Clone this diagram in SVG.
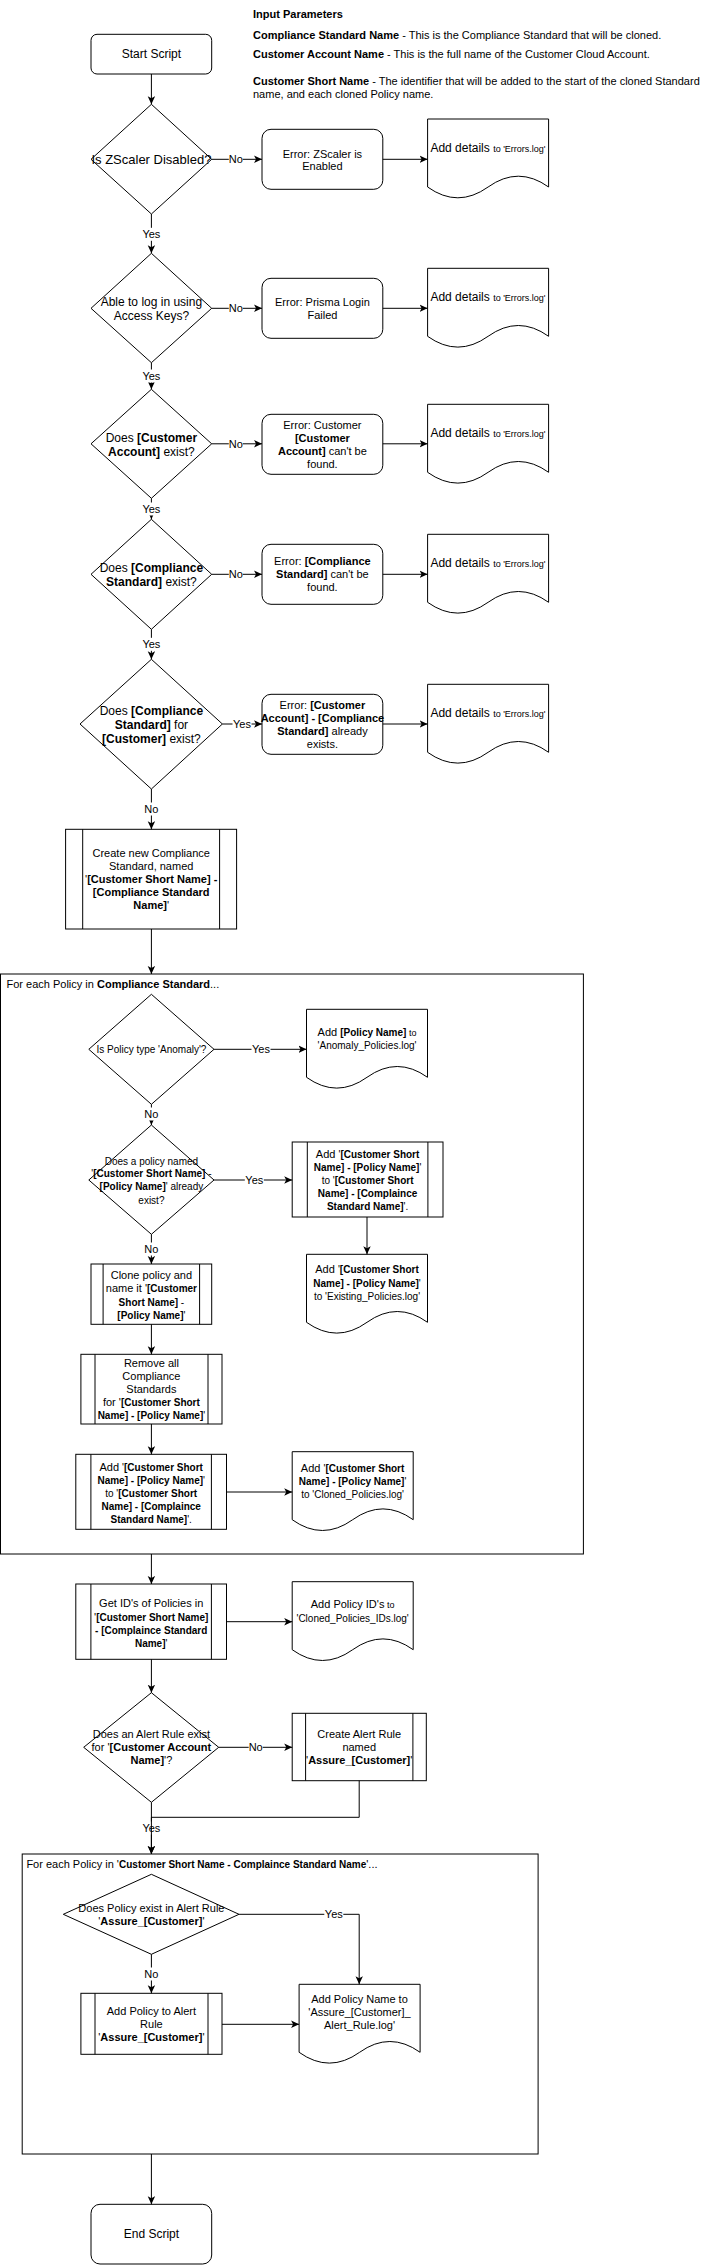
<svg xmlns="http://www.w3.org/2000/svg" width="721" height="2265" viewBox="0 0 721 2265">
<style>
text{font-family:'Liberation Sans',Arial,Helvetica,sans-serif;fill:#000}
.c{text-anchor:middle}
.s9{font-size:9px}.s10{font-size:10px}.s11{font-size:11px}.s12{font-size:12px}.s13{font-size:13px}
.b{font-weight:bold}
.sh{fill:#fff;stroke:#000;stroke-width:1}
.ln{fill:none;stroke:#000;stroke-width:1}
.e{fill:none;stroke:#000;stroke-width:1;marker-end:url(#arr)}
.lb{fill:#fff}
</style>
<defs>
<marker id="arr" markerUnits="userSpaceOnUse" markerWidth="9" markerHeight="9" refX="8" refY="4" orient="auto">
<path d="M0,0.3 L8,4 L0,7.7 L2,4 Z" fill="#000" stroke="none"/>
</marker>
<path id="doc" class="sh" d="M0,0 H121 V68 Q90.75,46.4 60.5,68 Q30.25,89.6 0,68 Z"/>
</defs>
<rect width="721" height="2265" fill="#fff"/>

<g id="input-params">
<text class="s11 b" x="253" y="18">Input Parameters</text>
<text class="s11" x="253" y="39"><tspan class="b">Compliance Standard Name</tspan> - This is the Compliance Standard that will be cloned.</text>
<text class="s11" x="253" y="58"><tspan class="b">Customer Account Name</tspan> - This is the full name of the Customer Cloud Account.</text>
<text class="s11" x="253" y="85"><tspan class="b">Customer Short Name</tspan> - The identifier that will be added to the start of the cloned Standard</text>
<text class="s11" x="253" y="98.3">name, and each cloned Policy name.</text>
</g>

<g id="container-policies">
<rect class="sh" x="0.5" y="974" width="582.9" height="580"/>
<text class="s11" x="6.5" y="988.3">For each Policy in <tspan class="b">Compliance Standard</tspan>...</text>
</g>
<g id="container-alert">
<rect class="sh" x="22.2" y="1854" width="515.9" height="300"/>
<text class="s11" x="26.4" y="1868.3">For each Policy in '<tspan class="b s10">Customer Short Name - Complaince Standard Name</tspan>'...</text>
</g>

<g id="start">
<rect class="sh" x="91" y="34.3" width="120.7" height="39.7" rx="6"/>
<text class="s12 c" x="151.4" y="58.3">Start Script</text>
</g>

<g id="d-zscaler">
<path class="sh" d="M151.4,104.3 L211.7,159.3 L151.4,214 L91,159.3 Z"/>
<text class="s13 c" x="151.4" y="164">Is ZScaler Disabled?</text>
</g>
<g id="e-zscaler">
<rect class="sh" x="262" y="129.3" width="120.8" height="60" rx="9"/>
<text class="s11 c" x="322.4" y="158">Error: ZScaler is</text>
<text class="s11 c" x="322.4" y="169.7">Enabled</text>
</g>
<g id="doc-1">
<use href="#doc" x="427.6" y="119"/>
<text class="s12 c" x="488" y="152">Add details <tspan class="s9">to 'Errors.log'</tspan></text>
</g>

<g id="d-login">
<path class="sh" d="M151.4,253.3 L211.7,308.3 L151.4,362.7 L91,308.3 Z"/>
<text class="s12 c" x="151.4" y="306">Able to log in using</text>
<text class="s12 c" x="151.4" y="320">Access Keys?</text>
</g>
<g id="e-login">
<rect class="sh" x="262" y="278.3" width="120.8" height="60" rx="9"/>
<text class="s11 c" x="322.4" y="306.3">Error: Prisma Login</text>
<text class="s11 c" x="322.4" y="319">Failed</text>
</g>
<g id="doc-2">
<use href="#doc" x="427.6" y="268.3"/>
<text class="s12 c" x="488" y="301">Add details <tspan class="s9">to 'Errors.log'</tspan></text>
</g>

<g id="d-account">
<path class="sh" d="M151.4,389.3 L211.7,443.8 L151.4,498.3 L91,443.8 Z"/>
<text class="s12 c" x="151.4" y="442">Does <tspan class="b">[Customer</tspan></text>
<text class="s12 c" x="151.4" y="455.6"><tspan class="b">Account]</tspan> exist?</text>
</g>
<g id="e-account">
<rect class="sh" x="262" y="414.3" width="120.8" height="60" rx="9"/>
<text class="s11 c" x="322.4" y="429">Error: Customer</text>
<text class="s11 c b" x="322.4" y="442.3">[Customer</text>
<text class="s11 c" x="322.4" y="455.3"><tspan class="b">Account]</tspan> can't be</text>
<text class="s11 c" x="322.4" y="468">found.</text>
</g>
<g id="doc-3">
<use href="#doc" x="427.6" y="404.3"/>
<text class="s12 c" x="488" y="436.6">Add details <tspan class="s9">to 'Errors.log'</tspan></text>
</g>

<g id="d-standard">
<path class="sh" d="M151.4,519.3 L211.7,574.3 L151.4,629.3 L91,574.3 Z"/>
<text class="s12 c" x="151.4" y="572">Does <tspan class="b">[Compliance</tspan></text>
<text class="s12 c" x="151.4" y="586"><tspan class="b">Standard]</tspan> exist?</text>
</g>
<g id="e-standard">
<rect class="sh" x="262" y="544.3" width="120.8" height="60" rx="9"/>
<text class="s11 c" x="322.4" y="565">Error: <tspan class="b">[Compliance</tspan></text>
<text class="s11 c" x="322.4" y="578.3"><tspan class="b">Standard]</tspan> can't be</text>
<text class="s11 c" x="322.4" y="591.3">found.</text>
</g>
<g id="doc-4">
<use href="#doc" x="427.6" y="534.3"/>
<text class="s12 c" x="488" y="567">Add details <tspan class="s9">to 'Errors.log'</tspan></text>
</g>

<g id="d-customer-standard">
<path class="sh" d="M151.4,659.3 L222.4,724 L151.4,789 L80,724 Z"/>
<text class="s12 c" x="151.4" y="715">Does <tspan class="b">[Compliance</tspan></text>
<text class="s12 c" x="151.4" y="728.6"><tspan class="b">Standard]</tspan> for</text>
<text class="s12 c" x="151.4" y="743"><tspan class="b">[Customer]</tspan> exist?</text>
</g>
<g id="e-customer-standard">
<rect class="sh" x="262" y="694.3" width="120.8" height="60" rx="9"/>
<text class="s11 c" x="322.4" y="709">Error: <tspan class="b">[Customer</tspan></text>
<text class="s11 c b" x="322.4" y="722.3">Account] - [Compliance</text>
<text class="s11 c" x="322.4" y="735.3"><tspan class="b">Standard]</tspan> already</text>
<text class="s11 c" x="322.4" y="748.3">exists.</text>
</g>
<g id="doc-5">
<use href="#doc" x="427.6" y="684.3"/>
<text class="s12 c" x="488" y="716.6">Add details <tspan class="s9">to 'Errors.log'</tspan></text>
</g>

<g id="p-create-standard">
<rect class="sh" x="65.6" y="829.3" width="171" height="99.7"/>
<path class="ln" d="M82.7,829.3 V929 M219.6,829.3 V929"/>
<text class="s11 c" x="151.2" y="857.3">Create new Compliance</text>
<text class="s11 c" x="151.2" y="870">Standard, named</text>
<text class="s11 c" x="151.2" y="883">'<tspan class="b">[Customer Short Name] -</tspan></text>
<text class="s11 c b" x="151.2" y="896.3">[Compliance Standard</text>
<text class="s11 c" x="151.2" y="909.3"><tspan class="b">Name]</tspan>'</text>
</g>

<g id="d-anomaly">
<path class="sh" d="M151.4,994.3 L214,1049.3 L151.4,1104.3 L88.8,1049.3 Z"/>
<text class="s10 c" x="151.4" y="1052.9">Is Policy type 'Anomaly'?</text>
</g>
<g id="doc-anomaly">
<use href="#doc" x="306.5" y="1009.3"/>
<text class="s11 c" x="367" y="1036">Add <tspan class="b s10">[Policy Name]</tspan><tspan class="s9"> to</tspan></text>
<text class="s10 c" x="367" y="1048.6">'Anomaly_Policies.log'</text>
</g>

<g id="d-policy-exists">
<path class="sh" d="M151.4,1125 L214,1180 L151.4,1234.3 L88.8,1180 Z"/>
<text class="s10 c" x="151.4" y="1164.6">Does a policy named</text>
<text class="s10 c" x="151.4" y="1177.3">'<tspan class="b">[Customer Short Name]</tspan> -</text>
<text class="s10 c" x="151.4" y="1190.3"><tspan class="b">[Policy Name]</tspan>' already</text>
<text class="s10 c" x="151.4" y="1203.6">exist?</text>
</g>
<g id="p-add-existing">
<rect class="sh" x="292.2" y="1142" width="150.8" height="75"/>
<path class="ln" d="M307.3,1142 V1217 M427.9,1142 V1217"/>
<text class="s11 c" x="367.6" y="1157.7">Add <tspan class="s10">'</tspan><tspan class="s10 b">[Customer Short</tspan></text>
<text class="s10 c" x="367.6" y="1170.7"><tspan class="b">Name] - [Policy Name]</tspan>'</text>
<text class="s10 c" x="367.6" y="1183.7">to '<tspan class="b">[Customer Short</tspan></text>
<text class="s10 c b" x="367.6" y="1196.7">Name] - [Complaince</text>
<text class="s10 c" x="367.6" y="1209.7"><tspan class="b">Standard Name]</tspan>'.</text>
</g>
<g id="doc-existing">
<use href="#doc" x="306.5" y="1254.3"/>
<text class="s11 c" x="367" y="1273.3">Add <tspan class="s10">'</tspan><tspan class="s10 b">[Customer Short</tspan></text>
<text class="s10 c" x="367" y="1286.7"><tspan class="b">Name] - [Policy Name]</tspan>'</text>
<text class="s10 c" x="367" y="1299.7">to 'Existing_Policies.log'</text>
</g>

<g id="p-clone">
<rect class="sh" x="91" y="1264" width="120.7" height="60.3"/>
<path class="ln" d="M103.1,1264 V1324.3 M199.6,1264 V1324.3"/>
<text class="s11 c" x="151.4" y="1279.3">Clone policy and</text>
<text class="s11 c" x="151.4" y="1292.3">name it '<tspan class="b s10">[Customer</tspan></text>
<text class="s10 c" x="151.4" y="1305.7"><tspan class="b">Short Name]</tspan> -</text>
<text class="s10 c" x="151.4" y="1318.7"><tspan class="b">[Policy Name]</tspan>'</text>
</g>
<g id="p-remove">
<rect class="sh" x="80.9" y="1354.3" width="141.1" height="69.7"/>
<path class="ln" d="M95,1354.3 V1424 M208,1354.3 V1424"/>
<text class="s11 c" x="151.4" y="1367.3">Remove all</text>
<text class="s11 c" x="151.4" y="1380.3">Compliance</text>
<text class="s11 c" x="151.4" y="1393">Standards</text>
<text class="s11 c" x="151.4" y="1406.3">for '<tspan class="b s10">[Customer Short</tspan></text>
<text class="s10 c" x="151.4" y="1419.3"><tspan class="b">Name] - [Policy Name]</tspan>'</text>
</g>
<g id="p-add-cloned">
<rect class="sh" x="75.8" y="1454.3" width="150.7" height="75"/>
<path class="ln" d="M90.9,1454.3 V1529.3 M211.4,1454.3 V1529.3"/>
<text class="s11 c" x="151.2" y="1470.7">Add <tspan class="s10">'</tspan><tspan class="s10 b">[Customer Short</tspan></text>
<text class="s10 c" x="151.2" y="1483.7"><tspan class="b">Name] - [Policy Name]</tspan>'</text>
<text class="s10 c" x="151.2" y="1496.7">to '<tspan class="b">[Customer Short</tspan></text>
<text class="s10 c b" x="151.2" y="1509.7">Name] - [Complaince</text>
<text class="s10 c" x="151.2" y="1522.7"><tspan class="b">Standard Name]</tspan>'.</text>
</g>
<g id="doc-cloned">
<use href="#doc" x="292.2" y="1451.7"/>
<text class="s11 c" x="352.6" y="1471.7">Add <tspan class="s10">'</tspan><tspan class="s10 b">[Customer Short</tspan></text>
<text class="s10 c" x="352.6" y="1484.7"><tspan class="b">Name] - [Policy Name]</tspan>'</text>
<text class="s10 c" x="352.6" y="1497.7">to 'Cloned_Policies.log'</text>
</g>

<g id="p-get-ids">
<rect class="sh" x="75.8" y="1584" width="150.7" height="75.3"/>
<path class="ln" d="M90.9,1584 V1659.3 M211.4,1584 V1659.3"/>
<text class="s11 c" x="151.2" y="1607">Get ID's of Policies in</text>
<text class="s11 c" x="151.2" y="1620.7">'<tspan class="b s10">[Customer Short Name]</tspan></text>
<text class="s10 c b" x="151.2" y="1634">- [Complaince Standard</text>
<text class="s10 c" x="151.2" y="1646.7"><tspan class="b">Name]</tspan>'</text>
</g>
<g id="doc-ids">
<use href="#doc" x="292.2" y="1581.7"/>
<text class="s11 c" x="352.6" y="1608">Add Policy ID's<tspan class="s9"> to</tspan></text>
<text class="s10 c" x="352.6" y="1621.7">'Cloned_Policies_IDs.log'</text>
</g>

<g id="d-alert-rule">
<path class="sh" d="M151.4,1692.7 L218.7,1747.3 L151.4,1802.3 L83.7,1747.3 Z"/>
<text class="s11 c" x="151.4" y="1738">Does an Alert Rule exist</text>
<text class="s11 c" x="151.4" y="1751.3">for '<tspan class="b">[Customer Account</tspan></text>
<text class="s11 c" x="151.4" y="1764.3"><tspan class="b">Name]</tspan>'?</text>
</g>
<g id="p-create-alert">
<rect class="sh" x="292.2" y="1713.3" width="134.1" height="67.4"/>
<path class="ln" d="M305.6,1713.3 V1780.7 M412.9,1713.3 V1780.7"/>
<text class="s11 c" x="359.2" y="1738">Create Alert Rule</text>
<text class="s11 c" x="359.2" y="1751.3">named</text>
<text class="s11 c" x="359.2" y="1764.3">'<tspan class="b">Assure_[Customer]</tspan>'</text>
</g>

<g id="d-policy-in-rule">
<path class="sh" d="M151.4,1874.3 L239,1914.3 L151.4,1954.3 L63.3,1914.3 Z"/>
<text class="s11 c" x="151.4" y="1912.3">Does Policy exist in Alert Rule</text>
<text class="s11 c" x="151.4" y="1925">'<tspan class="b">Assure_[Customer]</tspan>'</text>
</g>
<g id="p-add-to-rule">
<rect class="sh" x="80.9" y="1993.3" width="141.1" height="61"/>
<path class="ln" d="M95,1993.3 V2054.3 M208,1993.3 V2054.3"/>
<text class="s11 c" x="151.4" y="2015">Add Policy to Alert</text>
<text class="s11 c" x="151.4" y="2028">Rule</text>
<text class="s11 c" x="151.4" y="2041">'<tspan class="b">Assure_[Customer]</tspan>'</text>
</g>
<g id="doc-alert">
<use href="#doc" x="299.1" y="1984.3"/>
<text class="s11 c" x="359.5" y="2003">Add Policy Name to</text>
<text class="s11 c" x="359.5" y="2016.3">'Assure_[Customer]_</text>
<text class="s11 c" x="359.5" y="2029.3">Alert_Rule.log'</text>
</g>

<g id="end">
<rect class="sh" x="91" y="2204.3" width="120.7" height="59.7" rx="9"/>
<text class="s12 c" x="151.4" y="2238.3">End Script</text>
</g>

<g id="connectors">
<path class="e" d="M151.4,74 V104.3"/>
<path class="e" d="M211.7,159.3 H262"/>
<path class="e" d="M382.8,159.3 H427.6"/>
<path class="e" d="M151.4,214 V253.3"/>
<path class="e" d="M211.7,308.3 H262"/>
<path class="e" d="M382.8,308.3 H427.6"/>
<path class="e" d="M151.4,362.7 V389.3"/>
<path class="e" d="M211.7,443.8 H262"/>
<path class="e" d="M382.8,443.8 H427.6"/>
<path class="e" d="M151.4,498.3 V519.3"/>
<path class="e" d="M211.7,574.3 H262"/>
<path class="e" d="M382.8,574.3 H427.6"/>
<path class="e" d="M151.4,629.3 V659.3"/>
<path class="e" d="M222.4,724 H262"/>
<path class="e" d="M382.8,724 H427.6"/>
<path class="e" d="M151.4,789 V829.3"/>
<path class="e" d="M151.4,929 V974"/>
<path class="e" d="M214,1049.3 H306.5"/>
<path class="e" d="M151.4,1104.3 V1125"/>
<path class="e" d="M214,1180 H292.2"/>
<path class="e" d="M367,1217 V1254.3"/>
<path class="e" d="M151.4,1234.3 V1264"/>
<path class="e" d="M151.4,1324.3 V1354.3"/>
<path class="e" d="M151.4,1424 V1454.3"/>
<path class="e" d="M226.5,1492 H292.2"/>
<path class="e" d="M151.4,1554 V1584"/>
<path class="e" d="M226.5,1621.7 H292.2"/>
<path class="e" d="M151.4,1659.3 V1692.7"/>
<path class="e" d="M218.7,1747.3 H292.2"/>
<path class="e" d="M151.4,1802.3 V1854"/>
<path class="e" d="M239,1914.3 H359.2 V1984.3"/>
<path class="e" d="M151.4,1954.3 V1993.3"/>
<path class="e" d="M222,2024.3 H299.1"/>
<path class="e" d="M151.4,2154 V2204.3"/>

<g id="edge-labels">
<rect class="lb" x="228.8" y="152.8" width="14" height="13"/><text class="s11 c" x="235.8" y="163.3">No</text>
<rect class="lb" x="228.8" y="301.8" width="14" height="13"/><text class="s11 c" x="235.8" y="312.3">No</text>
<rect class="lb" x="228.8" y="437.3" width="14" height="13"/><text class="s11 c" x="235.8" y="447.8">No</text>
<rect class="lb" x="228.8" y="567.8" width="14" height="13"/><text class="s11 c" x="235.8" y="578.3">No</text>
<rect class="lb" x="232.5" y="717.5" width="19" height="13"/><text class="s11 c" x="242" y="728">Yes</text>
<rect class="lb" x="141.9" y="227.8" width="19" height="13"/><text class="s11 c" x="151.4" y="238.3">Yes</text>
<rect class="lb" x="141.9" y="369.5" width="19" height="13"/><text class="s11 c" x="151.4" y="380">Yes</text>
<rect class="lb" x="141.9" y="502.5" width="19" height="13"/><text class="s11 c" x="151.4" y="513">Yes</text>
<rect class="lb" x="141.9" y="637.8" width="19" height="13"/><text class="s11 c" x="151.4" y="648.3">Yes</text>
<rect class="lb" x="144.4" y="802.5" width="14" height="13"/><text class="s11 c" x="151.4" y="813">No</text>
<rect class="lb" x="251.5" y="1042.8" width="19" height="13"/><text class="s11 c" x="261" y="1053.3">Yes</text>
<rect class="lb" x="144.4" y="1107.5" width="14" height="13"/><text class="s11 c" x="151.4" y="1118">No</text>
<rect class="lb" x="244.8" y="1173.5" width="19" height="13"/><text class="s11 c" x="254.3" y="1184">Yes</text>
<rect class="lb" x="144.4" y="1242.5" width="14" height="13"/><text class="s11 c" x="151.4" y="1253">No</text>
<rect class="lb" x="248.7" y="1740.8" width="14" height="13"/><text class="s11 c" x="255.7" y="1751.3">No</text>
<rect class="lb" x="141.9" y="1821.5" width="19" height="13"/><text class="s11 c" x="151.4" y="1832">Yes</text>
<rect class="lb" x="324.3" y="1907.8" width="19" height="13"/><text class="s11 c" x="333.8" y="1918.3">Yes</text>
<rect class="lb" x="144.4" y="1967.5" width="14" height="13"/><text class="s11 c" x="151.4" y="1978">No</text>
</g>
<path class="e" d="M359.2,1780.7 V1817.3 H151.4 V1854"/>
</g>
</svg>
